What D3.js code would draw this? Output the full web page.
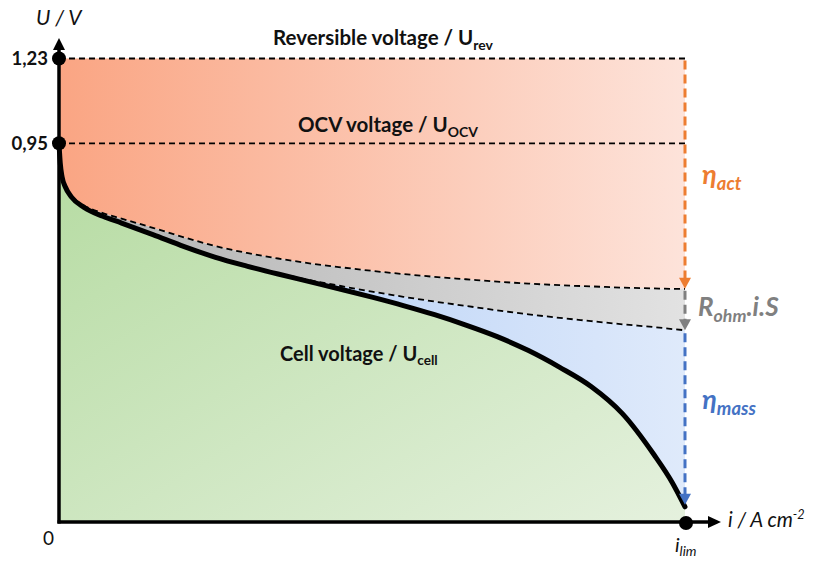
<!DOCTYPE html>
<html>
<head>
<meta charset="utf-8">
<script src="https://cdn.jsdelivr.net/npm/d3@7"></script>
<style>
body{margin:0;background:#fff;}
text{font-family:Lato,"Open Sans",sans-serif;}
</style>
</head>
<body>
<div class="canvas"></div>
<script>
// current density, normalised to i_lim
const current=[0,0.002,0.005,0.01,0.02,0.04,0.07,0.1,0.15,0.2,0.25,0.3,0.35,0.4,0.45,0.5,0.55,0.6,0.65,0.7,0.75,0.8,0.85,0.9,0.95,0.98,1];
// voltage after activation losses
const uAct=[0.95,0.901,0.866,0.843,0.818,0.794,0.775,0.761,0.738,0.714,0.692,0.675,0.661,0.649,0.639,0.630,0.622,0.615,0.609,0.603,0.598,0.594,0.591,0.588,0.586,0.585,0.585];
// voltage after ohmic losses
const uOhm=[0.95,0.900,0.865,0.842,0.816,0.790,0.768,0.751,0.722,0.693,0.666,0.644,0.624,0.607,0.592,0.578,0.565,0.553,0.542,0.531,0.521,0.512,0.504,0.496,0.489,0.484,0.481];
// cell voltage
const uCell=[0.95,0.900,0.865,0.841,0.815,0.789,0.767,0.750,0.721,0.691,0.664,0.642,0.622,0.603,0.584,0.564,0.543,0.520,0.494,0.465,0.430,0.388,0.340,0.272,0.170,0.098,0.038];
const uRev=1.23, uOcv=0.95;
const tickVals=[uRev,uOcv];

const width=815,height=561;
const svg=d3.select('.canvas').append('svg')
  .attr('width',width)
  .attr('height',height);

const x=d3.scaleLinear().domain([0,1]).range([59,685]);
// schematic axis: 0 -> 0,95 -> 1,23 not to scale
const y=d3.scaleLinear().domain([0,uOcv,uRev]).range([522,143.3,58.5]);

const data=current.map((c,i)=>({i:c,act:uAct[i],ohm:uOhm[i],cell:uCell[i]}));

// gradients
const defs=svg.append('defs');
const grad=(id,c0,c1,x2,y2)=>{
  const g=defs.append('linearGradient').attr('id',id)
    .attr('x1',0).attr('y1',0).attr('x2',x2).attr('y2',y2);
  g.append('stop').attr('offset','0%').attr('stop-color',c0);
  g.append('stop').attr('offset','100%').attr('stop-color',c1);
};
grad('gRed','#faa583','#fde3da',1,0);
grad('gGray','#b0b0b0','#e2e2e2',1,0);
grad('gBlue','#a7c6f4','#dfeafb',1,0);
grad('gGreen','#b5dba1','#e5f1de',1,1);

const curve=d3.curveMonotoneX;
const area=(top,bot)=>d3.area().curve(curve)
  .x(d=>x(d.i)).y0(top).y1(bot);

svg.append('path').datum(data).attr('fill','url(#gRed)')
  .attr('d',area(()=>y(uRev),d=>y(d.act)));
svg.append('path').datum(data).attr('fill','url(#gGray)')
  .attr('d',area(d=>y(d.act),d=>y(d.ohm)));
svg.append('path').datum(data).attr('fill','url(#gBlue)')
  .attr('d',area(d=>y(d.ohm),d=>y(d.cell)));
svg.append('path').datum(data).attr('fill','url(#gGreen)')
  .attr('d',area(d=>y(d.cell),()=>y(0)));

// dashed reference lines
const dash={stroke:'#000','stroke-width':1.8,'stroke-dasharray':'6,4',fill:'none'};
const applyDash=sel=>{Object.entries(dash).forEach(([k,v])=>sel.attr(k,v));return sel;};
tickVals.forEach(v=>{
  applyDash(svg.append('line')
    .attr('x1',x(0)).attr('x2',x(1))
    .attr('y1',y(v)).attr('y2',y(v)));
});
const line=key=>d3.line().curve(curve).x(d=>x(d.i)).y(d=>y(d[key]));
applyDash(svg.append('path').datum(data).attr('d',line('act')));
applyDash(svg.append('path').datum(data).attr('d',line('ohm')));

// cell voltage curve
svg.append('path').datum(data)
  .attr('fill','none').attr('stroke','#000')
  .attr('stroke-width',5).attr('stroke-linecap','round')
  .attr('d',line('cell'));

// axes
svg.append('line').attr('x1',x(0)).attr('x2',x(0))
  .attr('y1',y(0)+1.5).attr('y2',48)
  .attr('stroke','#000').attr('stroke-width',3.5);
svg.append('path').attr('d',`M${x(0)-6},50 L${x(0)},38 L${x(0)+6},50 Z`).attr('fill','#000');
svg.append('line').attr('x1',x(0)-1.5).attr('x2',710)
  .attr('y1',y(0)).attr('y2',y(0))
  .attr('stroke','#000').attr('stroke-width',3.5);
svg.append('path').attr('d',`M708,${y(0)-6} L721,${y(0)} L708,${y(0)+6} Z`).attr('fill','#000');

// y tick labels with comma decimal
const fr=d3.formatLocale({decimal:',',thousands:'.',grouping:[3],currency:['','']});
const yAxis=d3.axisLeft(y).tickValues(tickVals).tickFormat(fr.format('.2f')).tickSize(0).tickPadding(11);
const yAxisGroup=svg.append('g').attr('transform',`translate(${x(0)},0)`).call(yAxis);
yAxisGroup.select('.domain').remove();
yAxisGroup.selectAll('text')
  .attr('font-family','Lato,"Open Sans",sans-serif')
  .attr('font-size',18.5).attr('font-weight','bold').attr('fill','#111');

// dots
tickVals.forEach(v=>{
  svg.append('circle').attr('cx',x(0)).attr('cy',y(v)).attr('r',7).attr('fill','#000');
});
svg.append('circle').attr('cx',x(1)+1).attr('cy',y(0)+1).attr('r',7).attr('fill','#000');

// loss arrows
const last=data[data.length-1];
const arrow=(y1,y2,col)=>{
  svg.append('line').attr('x1',x(1)).attr('x2',x(1))
    .attr('y1',y1).attr('y2',y2-9)
    .attr('stroke',col).attr('stroke-width',3).attr('stroke-dasharray','9,5');
  svg.append('path').attr('d',`M${x(1)-6},${y2-11} L${x(1)},${y2} L${x(1)+6},${y2-11} Z`).attr('fill',col);
};
arrow(y(uRev)+2,y(last.act),'#ed7d31');
arrow(y(last.act)+2,y(last.ohm),'#808080');
arrow(y(last.ohm)+3,y(last.cell)-2,'#4472c4');

// labels
const label=(tx,ty,parts,opts={})=>{
  const size=opts.size||19;
  const t=svg.append('text').attr('x',tx).attr('y',ty)
    .attr('font-size',size)
    .attr('font-weight',opts.weight||'normal')
    .attr('font-style',opts.style||'normal')
    .attr('fill',opts.fill||'#111')
    .attr('text-anchor',opts.anchor||'start');
  parts.forEach(p=>{
    const s=t.append('tspan').text(p.t);
    if(p.sub){s.attr('font-size',size*0.68).attr('dy',size*0.22);}
    else if(p.sup){s.attr('font-size',size*0.62).attr('dy',-size*0.37);}
    else if(p.reset){s.attr('dy',p.reset);}
  });
  return t;
};
label(273,45,[{t:'Reversible voltage / U'},{t:'rev',sub:true}],{weight:'bold',size:20.5});
label(298,132,[{t:'OCV voltage / U'},{t:'OCV',sub:true}],{weight:'bold',size:20.5});
label(280,361,[{t:'Cell voltage / U'},{t:'cell',sub:true}],{weight:'bold',size:20});
label(36,25,[{t:'U / V'}],{style:'italic',size:21});
label(43,545,[{t:'0'}],{size:19});
label(728,527,[{t:'i / A cm'},{t:'-2',sup:true}],{style:'italic',size:20.5});
label(675,552,[{t:'i'},{t:'lim',sub:true}],{style:'italic',size:20});
label(702,184,[{t:'η'},{t:'act',sub:true}],{style:'italic',weight:'bold',size:27,fill:'#ed7d31'});
label(698,316,[{t:'R'},{t:'ohm',sub:true},{t:'.i.S',reset:-5.9}],{style:'italic',weight:'bold',size:26,fill:'#808080'});
label(702,409,[{t:'η'},{t:'mass',sub:true}],{style:'italic',weight:'bold',size:27,fill:'#4472c4'});
</script>
</body>
</html>
